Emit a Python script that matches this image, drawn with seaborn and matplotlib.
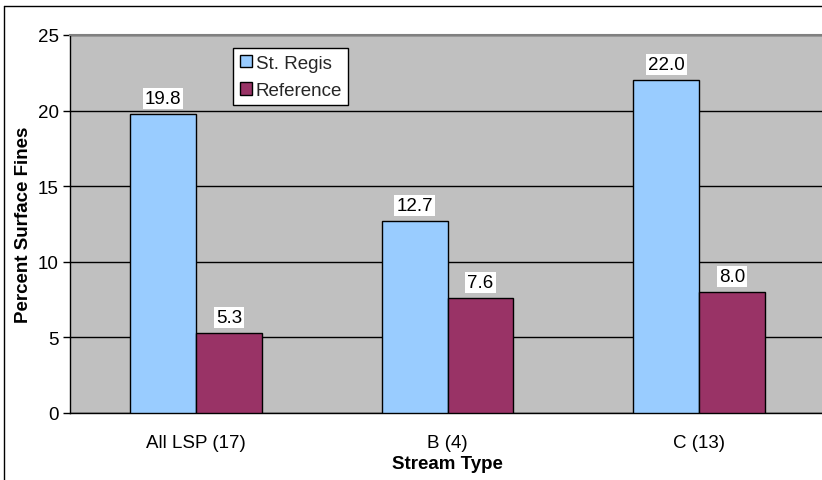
import matplotlib
matplotlib.use("Agg")
import matplotlib.pyplot as plt
import seaborn as sns
import pandas as pd
from matplotlib.patches import Patch
from matplotlib.lines import Line2D

categories = ["All LSP (17)", "B (4)", "C (13)"]
st_regis = [19.8, 12.7, 22.0]
reference = [5.3, 7.6, 8.0]
series_names = ["St. Regis", "Reference"]
colors = ["#99CCFF", "#993366"]
yticks = [0, 5, 10, 15, 20, 25]

df = pd.DataFrame({
    "Stream Type": categories * 2,
    "Value": st_regis + reference,
    "Series": [series_names[0]] * 3 + [series_names[1]] * 3,
})

sns.set_theme(style="white")
plt.rcParams["font.family"] = ["Liberation Sans", "DejaVu Sans"]

FS = 13.5
W, H = 822, 481
fig = plt.figure(figsize=(W / 100, H / 100), dpi=100)
fig.patch.set_facecolor("white")
ax = fig.add_axes([70 / W, 1 - 414 / H, (825 - 70) / W, (414 - 36) / H])
ax.set_facecolor("#C0C0C0")

sns.barplot(data=df, x="Stream Type", y="Value", hue="Series",
            order=categories, hue_order=series_names, palette=colors,
            width=0.524, gap=0, edgecolor="black", linewidth=1,
            saturation=1, ax=ax, legend=False, zorder=3)

ax.set_ylim(0, 25)
ax.set_xlim(-0.5, 2.5)
ax.set_yticks(yticks)
ax.set_yticklabels([str(v) for v in yticks], fontsize=FS, color="black")
ax.set_xticks(range(len(categories)))
ax.set_xticklabels(categories, fontsize=FS, color="black")
ax.tick_params(axis="x", which="major", length=0, pad=15)
ax.set_xticks([-0.5, 0.5, 1.5, 2.5], minor=True)
ax.tick_params(axis="x", which="minor", length=5, direction="out", color="black", width=1)
ax.tick_params(axis="y", length=5, direction="out", color="black", width=1, pad=3, left=True)

ax.yaxis.grid(True, color="black", linewidth=1, zorder=1)
ax.set_axisbelow(True)

for side in ["left", "bottom"]:
    ax.spines[side].set_color("black")
    ax.spines[side].set_linewidth(1)
ax.spines["top"].set_color("#808080")
ax.spines["top"].set_linewidth(1.5)
ax.spines["right"].set_visible(False)

ax.set_xlabel("Stream Type", fontsize=FS, fontweight="bold", color="black", labelpad=3)
ax.set_ylabel("Percent Surface Fines", fontsize=FS, fontweight="bold", color="black", labelpad=4)

for cont in ax.containers:
    ax.bar_label(cont, fmt="%.1f", padding=5, fontsize=FS, color="black",
                 bbox=dict(facecolor="white", edgecolor="none", pad=1.5))

handles = [Patch(facecolor=c, edgecolor="black", linewidth=1) for c in colors]
leg = ax.legend(handles, series_names, loc="upper left",
                bbox_to_anchor=((233 - 70) / 755, (414 - 49) / 378),
                fontsize=FS, frameon=True, fancybox=False, framealpha=1,
                edgecolor="black", handlelength=0.65, handleheight=0.65,
                handletextpad=0.2, borderpad=0.35, labelspacing=0.55,
                borderaxespad=0)
leg.get_frame().set_linewidth(1)

fig.add_artist(Line2D([4 / W, 1], [1 - 7 / H, 1 - 7 / H], color="black", linewidth=1))
fig.add_artist(Line2D([4 / W, 4 / W], [0, 1 - 7 / H], color="black", linewidth=1))

fig.savefig("out.png", dpi=100, facecolor="white")
